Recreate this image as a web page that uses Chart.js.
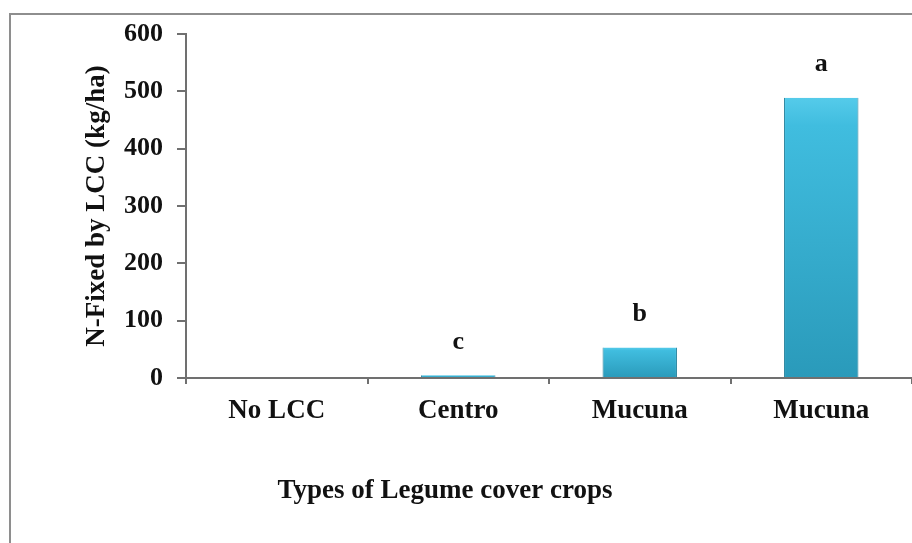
<!DOCTYPE html>
<html>
<head>
<meta charset="utf-8">
<script src="https://cdn.jsdelivr.net/npm/chart.js@4"></script>
<style>
  html, body { margin: 0; padding: 0; background: #fff; }
  #wrap { position: relative; width: 912px; height: 543px; overflow: hidden; }
  #frame {
    position: absolute; left: 9px; top: 13px; width: 960px; height: 600px;
    border-left: 2px solid #8e8e8e; border-top: 2px solid #8e8e8e;
    pointer-events: none;
  }
</style>
</head>
<body>
<div id="wrap">
  <canvas id="legumeChart" width="912" height="543"></canvas>
  <div id="frame"></div>
</div>
<script>
// chart data
const categories = ['No LCC', 'Centro', 'Mucuna', 'Mucuna'];
const nFixed = [0, 5, 53, 489];
const significance = ['', 'c', 'b', 'a'];
const yTicks = [0, 100, 200, 300, 400, 500, 600];

const serif = '"Liberation Serif", "Times New Roman", serif';

// vertical gradient per bar, light on top, darker at the base
function barGradient(context) {
    const chart = context.chart;
    const y = chart.scales.y;
    if (!y || !chart.chartArea) return '#34aecf';
    const top = y.getPixelForValue(context.raw);
    const base = y.getPixelForValue(0);
    const g = chart.ctx.createLinearGradient(0, top, 0, Math.max(base, top + 1));
    g.addColorStop(0, '#55cbea');
    g.addColorStop(0.1, '#40bddf');
    g.addColorStop(1, '#2a9aba');
    return g;
}

const letterLabels = {
    id: 'letterLabels',
    afterDatasetsDraw(chart) {
        const ctx = chart.ctx;
        const meta = chart.getDatasetMeta(0);
        ctx.save();
        ctx.font = 'bold 26px ' + serif;
        ctx.fillStyle = '#111';
        ctx.textAlign = 'center';
        ctx.textBaseline = 'bottom';
        meta.data.forEach((bar, i) => {
            if (significance[i]) ctx.fillText(significance[i], bar.x, bar.y - 20);
        });
        ctx.restore();
    }
};

// x title sits left of the plot centre in the original
const xTitle = {
    id: 'xTitle',
    afterDraw(chart) {
        const ctx = chart.ctx;
        ctx.save();
        ctx.font = 'bold 27px ' + serif;
        ctx.fillStyle = '#111';
        ctx.textAlign = 'center';
        ctx.textBaseline = 'middle';
        ctx.fillText('Types of Legume cover crops', 445, 491);
        ctx.restore();
    }
};

new Chart(document.getElementById('legumeChart'), {
    type: 'bar',
    data: {
        labels: categories,
        datasets: [{
            data: nFixed,
            backgroundColor: barGradient,
            borderColor: '#23809c',
            borderWidth: { top: 0, left: 1, right: 1, bottom: 2 },
            barPercentage: 0.41,
            categoryPercentage: 1
        }]
    },
    options: {
        responsive: false,
        animation: false,
        layout: { padding: { top: 34, left: 0, right: 0, bottom: 0 } },
        plugins: {
            legend: { display: false },
            tooltip: { enabled: false }
        },
        scales: {
            x: {
                grid: {
                    drawOnChartArea: false,
                    drawTicks: true,
                    tickLength: 6,
                    color: '#707070',
                    lineWidth: 2
                },
                border: { color: '#707070', width: 2 },
                ticks: {
                    color: '#111',
                    font: { family: serif, size: 27, weight: 'bold' },
                    padding: 11
                },
                afterFit(scale) { scale.height = 165; }
            },
            y: {
                min: 0,
                max: 600,
                afterBuildTicks(scale) { scale.ticks = yTicks.map(v => ({ value: v })); },
                grid: {
                    drawOnChartArea: false,
                    drawTicks: true,
                    tickLength: 9,
                    color: '#707070',
                    lineWidth: 2
                },
                border: { color: '#707070', width: 2 },
                ticks: {
                    color: '#111',
                    font: { family: serif, size: 26, weight: 'bold' },
                    padding: 14
                },
                title: {
                    display: true,
                    text: 'N-Fixed by LCC (kg/ha)',
                    color: '#111',
                    font: { family: serif, size: 27, weight: 'bold' },
                    padding: { top: 81, bottom: 0 }
                },
                afterFit(scale) { scale.width = 186; }
            }
        }
    },
    plugins: [letterLabels, xTitle]
});
</script>
</body>
</html>
